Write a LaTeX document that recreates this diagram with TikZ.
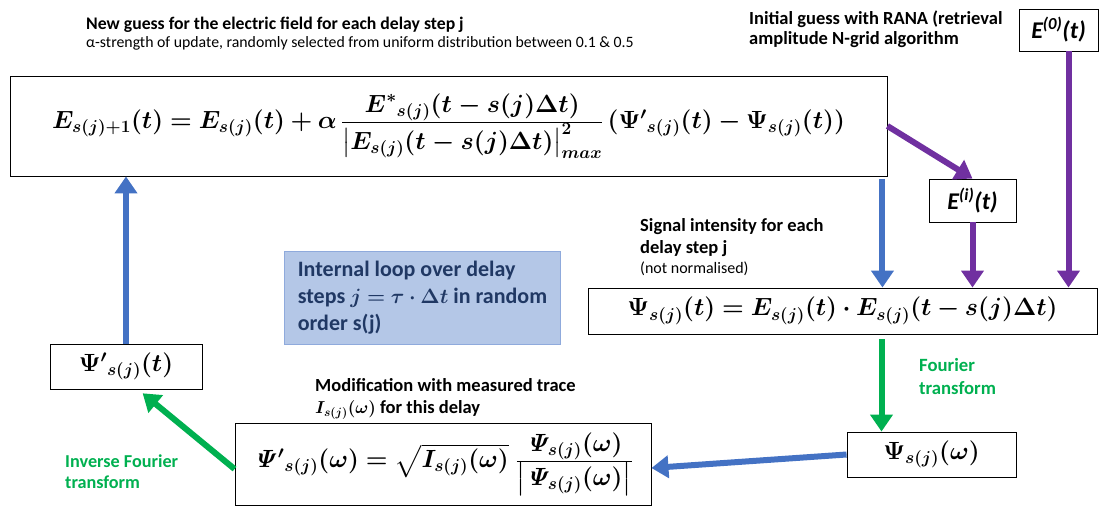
\documentclass[tikz,border=0pt]{standalone}
\usepackage{amsmath,amssymb,bm}
\usepackage[no-math]{fontspec}
\setmainfont{Carlito}
\usetikzlibrary{arrows.meta}

\definecolor{arrblue}{HTML}{4472C4}
\definecolor{arrpurple}{HTML}{7030A0}
\definecolor{arrgreen}{HTML}{00B050}
\definecolor{loopfill}{HTML}{B4C7E7}
\definecolor{loopline}{HTML}{8FAADC}
\definecolor{looptext}{HTML}{203864}

\newcommand{\sj}{s(j)}
\newcommand{\updeq}{$\bm{E_{\sj+1}(t) = E_{\sj}(t) + \alpha\,\frac{\displaystyle {E^{*}}_{\sj}(t-\sj\Delta t)}{\displaystyle \left\vert E_{\sj}(t-\sj\Delta t)\right\vert^{2}_{max}}\,({\Psi^{\prime}}_{\sj}(t)-\Psi_{\sj}(t))}$}
\newcommand{\sigeq}{$\bm{\Psi_{\sj}(t) = E_{\sj}(t)\cdot E_{\sj}(t-\sj\Delta t)}$}
\newcommand{\modeq}{$\bm{{\mathit{\Psi}^{\prime}}_{\sj}(\omega) = \sqrt{I_{\sj}(\omega)}\;\frac{\displaystyle \mathit{\Psi}_{\sj}(\omega)}{\displaystyle \left\vert\mathit{\Psi}_{\sj}(\omega)\right\vert}}$}

\tikzset{
  eqbox/.style={draw, line width=0.9pt, inner sep=0pt},
  note/.style={inner sep=0pt, anchor=base west, align=left},
  bigarrow/.style={line width=6pt, -{Triangle[length=17pt,width=22pt]}}
}

\begin{document}
\begin{tikzpicture}[x=1pt,y=-1pt]
        \useasboundingbox (0,0) rectangle (1100,514);
        % boxes
        \node[eqbox, minimum width=877pt, minimum height=100pt, font=\fontsize{24.5}{28}\selectfont] (upd) at (448.5,126) {\updeq};
        \node[eqbox, minimum width=79pt, minimum height=42pt, font=\bfseries\itshape\fontsize{24}{28}\selectfont] (einit) at (1058.5,30) {E\textsuperscript{(0)}(t)};
        \node[eqbox, minimum width=87pt, minimum height=43pt, font=\bfseries\itshape\fontsize{24}{28}\selectfont] (eiter) at (972.5,200.5) {E\textsuperscript{(i)}(t)};
        \node[eqbox, minimum width=509pt, minimum height=46pt, font=\fontsize{23}{28}\selectfont] (sig) at (842.5,311) {\sigeq};
        \node[draw=loopline, fill=loopfill, line width=1pt, minimum width=276pt, minimum height=93pt,
              align=left, inner sep=0pt, text=looptext,
              font=\bfseries\fontsize{22}{27}\selectfont] (loopbox) at (422.5,297.5)
          {Internal loop over delay\\steps $\bm{j=\tau\cdot\Delta t}$ in random\\order s(j)};
        \node[eqbox, minimum width=152pt, minimum height=45pt, font=\fontsize{26}{30}\selectfont] (psit) at (126,366.5) {$\bm{{\Psi^{\prime}}_{\sj}(t)}$};
        \node[eqbox, minimum width=416pt, minimum height=82pt, font=\fontsize{27}{30}\selectfont] (mod) at (443,464) {\modeq};
        \node[eqbox, minimum width=169pt, minimum height=45pt, font=\fontsize{26}{30}\selectfont] (psiw) at (931.5,454.5) {$\bm{\Psi_{\sj}(\omega)}$};
        % texts
        \node[note, font=\bfseries\fontsize{17.7}{18}\selectfont] (guesstxt) at (86,47)
          {New guess for the electric field for each delay step j\\
           {\mdseries\fontsize{15.8}{18}\selectfont α-strength of update, randomly selected from uniform distribution between 0.1 \& 0.5}};
        \node[note, font=\bfseries\fontsize{18.5}{20}\selectfont] (ranatxt) at (749,44) {Initial guess with RANA (retrieval\\amplitude N-grid algorithm};
        \node[note, font=\bfseries\fontsize{18.5}{22}\selectfont] (sigtxt) at (640,273)
          {Signal intensity for each\\delay step j\\[-2pt]{\mdseries\fontsize{16}{20}\selectfont (not normalised)}};
        \node[note, font=\bfseries\fontsize{18.5}{22}\selectfont] (modtxt) at (315,413)
          {Modification with measured trace\\$\bm{I_{\sj}(\omega)}$ for this delay};
        \node[note, font=\bfseries\fontsize{18.7}{23}\selectfont, text=arrgreen] (fttxt) at (919,394) {Fourier\\transform};
        \node[note, font=\bfseries\fontsize{18.2}{21}\selectfont, text=arrgreen] (ifttxt) at (65,488) {Inverse Fourier\\transform};
        % arrows
        \draw[bigarrow, arrblue] (psit.north) -- (psit.north |- upd.south);
        \draw[bigarrow, arrblue, shorten <=3pt] ([xshift=-5pt]upd.south east) -- ([xshift=-5pt]upd.south east |- sig.north);
        \draw[bigarrow, arrpurple] (upd.east) -- (eiter.north);
        \draw[bigarrow, arrpurple] (eiter.south) -- (eiter.south |- sig.north);
        \draw[bigarrow, arrpurple] ([xshift=10pt]einit.south) -- ([xshift=10pt]einit.south |- sig.north);
        \draw[bigarrow, arrgreen, shorten <=5pt] ([xshift=-50pt]psiw.north |- sig.south) -- ([xshift=-50pt]psiw.north);
        \draw[bigarrow, arrblue] (psiw.west) -- ([yshift=-4pt]mod.east);
        \draw[bigarrow, arrgreen, shorten >=6pt] ([yshift=-5pt]mod.west) -- ([xshift=12pt]psit.south);
\end{tikzpicture}
\end{document}
